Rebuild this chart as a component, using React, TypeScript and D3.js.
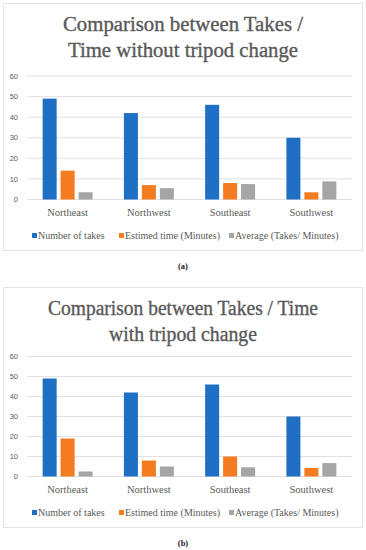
import React from 'react';
import * as d3 from 'd3';

const categories = ['Northeast', 'Northwest', 'Southeast', 'Southwest'];
const seriesNames = ['Number of takes', 'Estimed time (Minutes)', 'Average (Takes/ Minutes)'];
const seriesColors = ['#1f6fc5', '#f47c20', '#a5a5a5'];
const yTicks = [0, 10, 20, 30, 40, 50, 60];

// (a) without tripod change
const takesA = [49, 42, 46, 30];
const timeA = [14, 7, 8, 3.5];
const avgA = [3.5, 5.5, 7.5, 8.8];

// (b) with tripod change
const takesB = [49, 42, 46, 30];
const timeB = [19, 8, 10, 4.3];
const avgB = [2.5, 5, 4.6, 6.7];

const titleA = ['Comparison between Takes /', 'Time without tripod change'];
const titleB = ['Comparison between Takes / Time', 'with tripod change'];

// rendered widths of the title lines (the original font is a Palatino)
const titleWidthsA = [240, 230];
const titleWidthsB = [270, 148];

const serif = '"Liberation Serif", "DejaVu Serif", serif';
const sans = '"Liberation Sans", Arial, sans-serif';

function Chart({ top, boxH, title, titleWidths, values, zeroY, topY, label }) {
  const left = 27, right = 352;
  const x = d3.scaleBand().domain(categories).range([left, right]).paddingInner(0.385).paddingOuter(0.1925);
  const xs = d3.scaleBand().domain(seriesNames).range([0, x.bandwidth()]).paddingInner(0.22);
  const y = d3.scaleLinear().domain([0, 60]).range([zeroY, topY]);

  const legendX = [32, 119, 229];
  const legendY = zeroY + 36;

  return (
    <g>
      <rect x={3.5} y={top + 0.5} width={359} height={boxH} fill="#fff" stroke="#e3e3e3" />
      {title.map((t, i) => (
        <text key={t} x={183} y={top + 28 + i * 25.5} textAnchor="middle" fontFamily={serif}
          fontSize={20.5} fill="#595959" stroke="#595959" strokeWidth={0.35}
          textLength={titleWidths[i]} lengthAdjust="spacingAndGlyphs">{t}</text>
      ))}
      {yTicks.map(t => (
        <g key={t}>
          <line x1={left} x2={right} y1={y(t)} y2={y(t)} stroke="#d9d9d9" strokeWidth={0.8} />
          <text x={18} y={y(t)} dy="0.35em" textAnchor="end" fontFamily={sans} fontSize={7.5} fill="#595959">{t}</text>
        </g>
      ))}
      {categories.map((c, ci) => (
        <g key={c}>
          {seriesNames.map((s, si) => (
            <rect key={s} x={x(c) + xs(s)} y={y(values[si][ci])} width={xs.bandwidth()}
              height={y(0) - y(values[si][ci])} fill={seriesColors[si]} />
          ))}
          <text x={x(c) + x.bandwidth() / 2} y={zeroY + 13} dy="0.35em" textAnchor="middle"
            fontFamily={serif} fontSize={10.5} fill="#595959">{c}</text>
        </g>
      ))}
      {seriesNames.map((s, i) => (
        <g key={s}>
          <rect x={legendX[i]} y={legendY - 2.5} width={5} height={5} fill={seriesColors[i]} />
          <text x={legendX[i] + 6} y={legendY} dy="0.35em" fontFamily={serif} fontSize={10} fill="#595959">{s}</text>
        </g>
      ))}
      <text x={183} y={top + boxH + 16} dy="0.35em" textAnchor="middle" fontFamily={serif}
        fontSize={8.5} fontWeight="bold" fill="#222">{label}</text>
    </g>
  );
}

export default function App() {
  return (
    <svg width={366} height={550} style={{ position: 'absolute', left: 0, top: 0, background: '#fff' }}>
      <Chart top={3} boxH={247} title={titleA} titleWidths={titleWidthsA} values={[takesA, timeA, avgA]}
        zeroY={199.5} topY={76} label="(a)" />
      <Chart top={287} boxH={240} title={titleB} titleWidths={titleWidthsB} values={[takesB, timeB, avgB]}
        zeroY={476.5} topY={356.5} label="(b)" />
    </svg>
  );
}
